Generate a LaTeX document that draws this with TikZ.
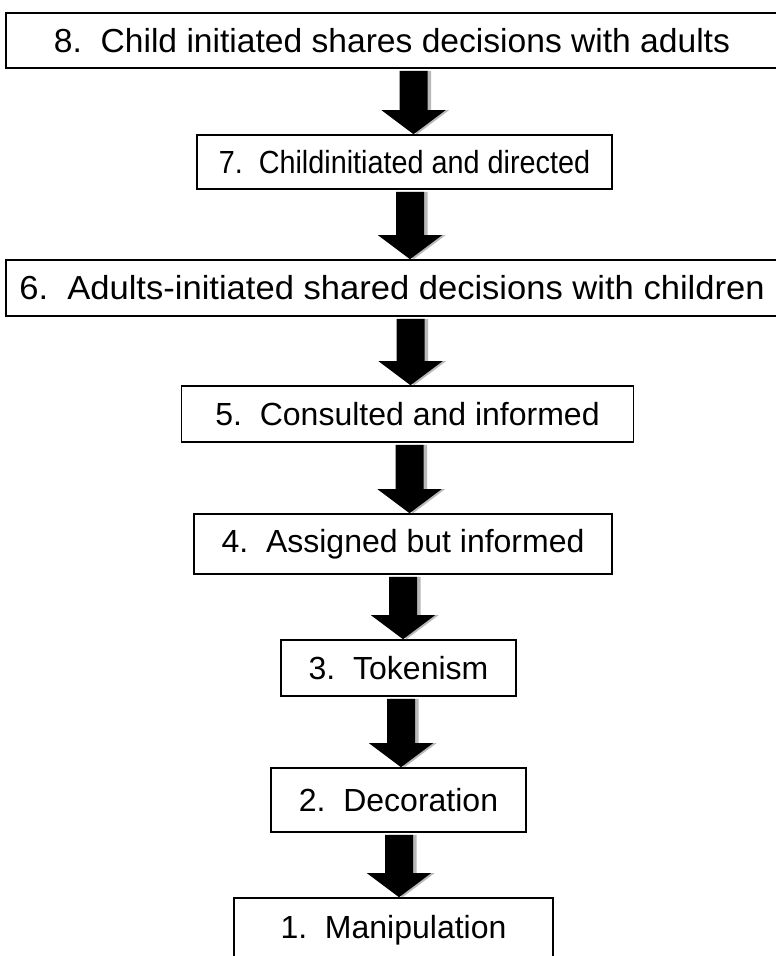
\documentclass[tikz,border=0pt]{standalone}
\usepackage{fontspec}
\setmainfont{Liberation Sans}
\usetikzlibrary{calc}
\tikzset{
  box/.style={draw=black, line width=1.6pt, fill=white, inner sep=0pt,
              font=\fontsize{32}{38}\selectfont, text=black},
  arrowbody/.style={fill=black},
  arrowshadow/.style={fill=black!28},
}
% #1 from node, #2 to node, #3 x centre (pt)
\newcommand{\fatarrow}[3]{%
  \fill[arrowshadow, shift={(3.5pt,-3.5pt)}] let \p1=(#1.south), \p2=(#2.north) in
    ({#3pt-14pt},{\y1-2pt}) -- ({#3pt+14pt},{\y1-2pt}) -- ({#3pt+14pt},{\y2+24pt})
    -- ({#3pt+32pt},{\y2+24pt}) -- ({#3pt},{\y2}) -- ({#3pt-32pt},{\y2+24pt})
    -- ({#3pt-14pt},{\y2+24pt}) -- cycle;
  \fill[arrowbody] let \p1=(#1.south), \p2=(#2.north) in
    ({#3pt-14pt},{\y1-2pt}) -- ({#3pt+14pt},{\y1-2pt}) -- ({#3pt+14pt},{\y2+24pt})
    -- ({#3pt+32pt},{\y2+24pt}) -- ({#3pt},{\y2}) -- ({#3pt-32pt},{\y2+24pt})
    -- ({#3pt-14pt},{\y2+24pt}) -- cycle;
}
\begin{document}
\begin{tikzpicture}[x=1pt, y=-1pt]
  \useasboundingbox (0,0) rectangle (776,956);
  \fill[white] (0,0) rectangle (776,956);

  \node[box, minimum width=772pt, minimum height=55pt] (b8) at (392,40.5)
    {\scalebox{1.05}[1.04]{8.\ \ Child initiated shares decisions with adults}};
  \node[box, minimum width=415pt, minimum height=54pt] (b7) at (404.5,162)
    {\scalebox{0.9}[1]{7.\ \ Childinitiated and directed}};
  \node[box, minimum width=772pt, minimum height=56pt] (b6) at (392,288)
    {\scalebox{1.08}[1.04]{6.\ \ Adults-initiated shared decisions with children}};
  \node[box, minimum width=452pt, minimum height=56pt] (b5) at (407.5,414)
    {5.\ \ Consulted and informed};
  \node[box, minimum width=418pt, minimum height=60pt] (b4) at (403,544)
    {4.\ \ Assigned but informed};
  \node[box, minimum width=235pt, minimum height=56pt] (b3) at (398.5,668)
    {3.\ \ Tokenism};
  \node[box, minimum width=255pt, minimum height=64pt] (b2) at (398.5,800)
    {2.\ \ Decoration};
  \node[box, minimum width=319pt, minimum height=64pt] (b1) at (393.5,930)
    {1.\ \ Manipulation};

  \fatarrow{b8}{b7}{413.5}
  \fatarrow{b7}{b6}{410}
  \fatarrow{b6}{b5}{410.5}
  \fatarrow{b5}{b4}{409.5}
  \fatarrow{b4}{b3}{403}
  \fatarrow{b3}{b2}{401}
  \fatarrow{b2}{b1}{399}
\end{tikzpicture}
\end{document}
